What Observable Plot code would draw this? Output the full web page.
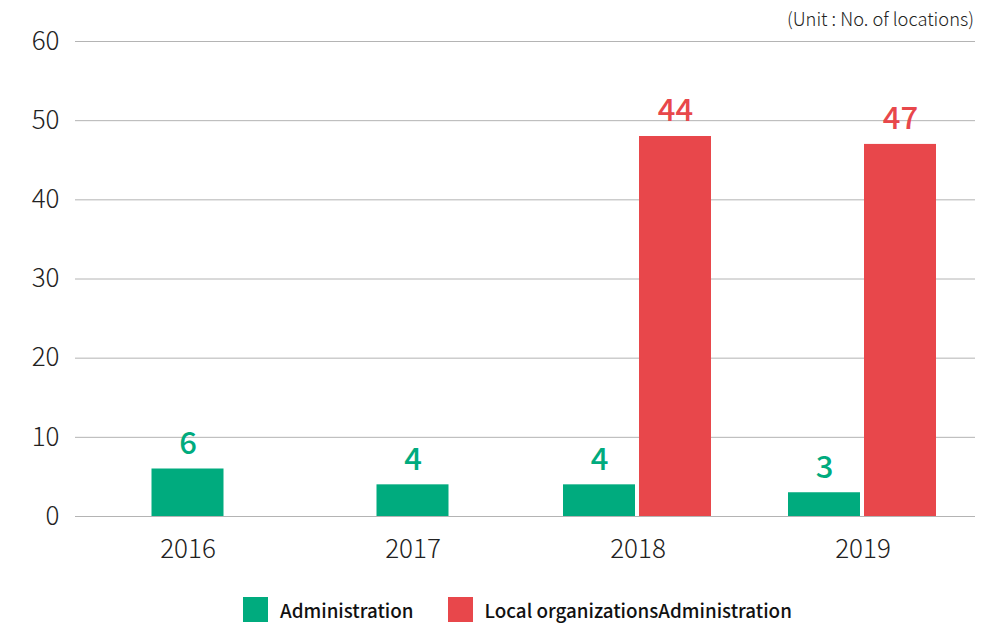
<!DOCTYPE html>
<html>
<head>
<meta charset="utf-8">
<script src="https://cdn.jsdelivr.net/npm/d3@7"></script>
<script src="https://cdn.jsdelivr.net/npm/@observablehq/plot@0.6"></script>
<style>
  html, body { margin: 0; padding: 0; background: #fff; }
  body { font-family: "Noto Sans CJK KR", "Noto Sans", sans-serif; color: #222; }
  #wrap { position: relative; width: 1005px; height: 623px; }
  #unit { position: absolute; top: 5px; right: 31px; font-size: 18.3px; font-weight: 300; color: #222; }
  #chart { position: absolute; top: 0; left: 0; }
  #legend { position: absolute; top: 596px; left: 243px; display: flex; align-items: center; font-size: 18.8px; font-weight: 500; color: #111; }
  .sw { width: 25px; height: 25px; display: inline-block; margin-right: 12px; }
  .item { display: flex; align-items: center; margin-right: 34px; }
  #chart svg text { font-family: "Noto Sans CJK KR", "Noto Sans", sans-serif; }
</style>
</head>
<body>
<div id="wrap">
  <div id="chart"></div>
  <div id="unit">(Unit : No. of locations)</div>
  <div id="legend"></div>
</div>
<script>
const years = ["2016", "2017", "2018", "2019"];
const adminValues = [6, 4, 4, 3];
const localValues = [null, null, 48, 47];
const adminLabels = ["6", "4", "4", "3"];
const localLabels = ["", "", "44", "47"];
const seriesNames = ["Administration", "Local organizationsAdministration"];
const seriesColors = ["#00ab7e", "#e8474b"];
const yTicks = [0, 10, 20, 30, 40, 50, 60];

const rows = [];
years.forEach((y, i) => {
  const paired = localValues[i] != null;
  rows.push({year: y, series: seriesNames[0], value: adminValues[i], label: adminLabels[i], slot: paired ? "left" : "center"});
  if (paired) rows.push({year: y, series: seriesNames[1], value: localValues[i], label: localLabels[i], slot: "right"});
});
const center = rows.filter(d => d.slot === "center");
const left = rows.filter(d => d.slot === "left");
const right = rows.filter(d => d.slot === "right");

const color = {domain: seriesNames, range: seriesColors};
const labelStyle = {fontSize: 31, fontWeight: 500, dy: -25};

const plot = Plot.plot({
  width: 1005,
  height: 580,
  marginTop: 41,
  marginBottom: 64,
  marginLeft: 75,
  marginRight: 30,
  style: {fontFamily: "'Noto Sans CJK KR', 'Noto Sans', sans-serif", color: "#222", background: "transparent"},
  x: {domain: years, padding: 0, label: null},
  y: {domain: [0, 60], ticks: yTicks, label: null},
  color,
  marks: [
    Plot.gridY(yTicks, {stroke: "#b4b4b4", strokeOpacity: 1, strokeWidth: 1}),
    Plot.axisY(yTicks, {tickSize: 0, tickPadding: 16, fontSize: 26, fontWeight: 300, fill: "#222", label: null}),
    Plot.axisX({tickSize: 0, tickPadding: 23, fontSize: 26, fontWeight: 300, fill: "#222", label: null}),
    Plot.barY(center, {x: "year", y: "value", fill: "series", insetLeft: 76.5, insetRight: 76.5}),
    Plot.barY(left, {x: "year", y: "value", fill: "series", insetLeft: 38, insetRight: 115}),
    Plot.barY(right, {x: "year", y: "value", fill: "series", insetLeft: 114, insetRight: 39}),
    Plot.text(center, {x: "year", y: "value", text: "label", fill: "series", ...labelStyle}),
    Plot.text(left, {x: "year", y: "value", text: "label", fill: "series", dx: -38.5, ...labelStyle}),
    Plot.text(right, {x: "year", y: "value", text: "label", fill: "series", dx: 37.5, ...labelStyle})
  ]
});
document.getElementById("chart").appendChild(plot);

const legend = document.getElementById("legend");
seriesNames.forEach((name, i) => {
  const item = document.createElement("div");
  item.className = "item";
  const sw = document.createElement("span");
  sw.className = "sw";
  sw.style.background = seriesColors[i];
  const t = document.createElement("span");
  t.textContent = name;
  item.appendChild(sw);
  item.appendChild(t);
  legend.appendChild(item);
});
</script>
</body>
</html>
